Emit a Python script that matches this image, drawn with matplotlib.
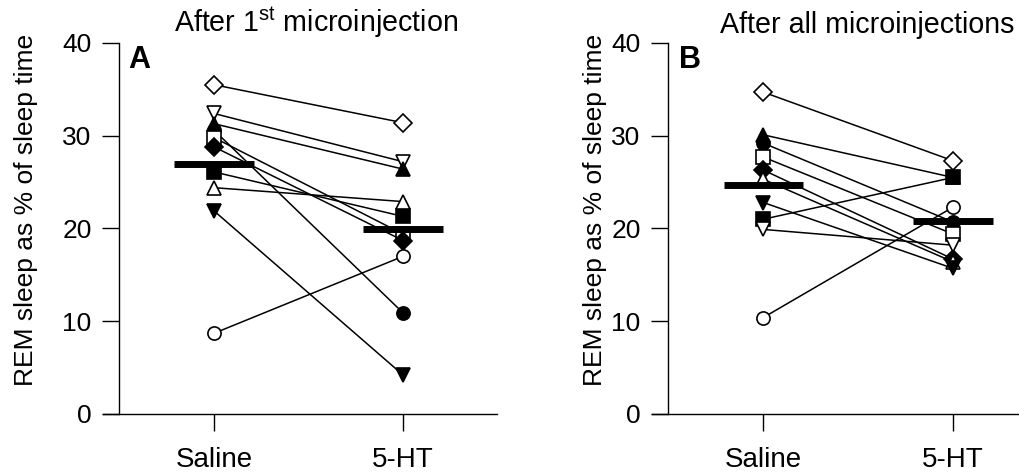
import matplotlib
matplotlib.use("Agg")
import matplotlib.pyplot as plt
import numpy as np

plt.rcParams['font.family'] = ['Liberation Sans', 'DejaVu Sans']
plt.rcParams['mathtext.fontset'] = 'custom'
plt.rcParams['mathtext.rm'] = 'Liberation Sans'
plt.rcParams['mathtext.it'] = 'Liberation Sans:italic'
plt.rcParams['mathtext.bf'] = 'Liberation Sans:bold'

groups = ["Saline", "5-HT"]

# panel A: after 1st microinjection (one entry per animal)
a_markers = ['D', 'v', '^', 'o', 's', 'D', 's', '^', 'v', 'o']
a_filled = [False, False, True, True, False, True, True, False, True, False]
a_saline = [35.5, 32.4, 31.3, 30.6, 29.8, 28.8, 26.1, 24.4, 21.9, 8.7]
a_5ht = [31.4, 27.2, 26.4, 10.9, 19.4, 18.7, 21.3, 22.9, 4.2, 17.0]

# panel B: after all microinjections
b_markers = ['D', '^', 'o', 's', 'D', '^', 'v', 's', 'v', 'o']
b_filled = [False, True, True, False, True, False, True, True, False, False]
b_saline = [34.7, 30.1, 29.2, 27.7, 26.3, 25.3, 22.8, 21.0, 19.9, 10.4]
b_5ht = [27.3, 25.5, 20.7, 19.4, 16.7, 16.4, 15.7, 25.5, 18.2, 22.3]

fig = plt.figure(figsize=(10.2, 4.74), dpi=100)
ax_a = fig.add_axes([0.101, 0.1266, 0.3863, 0.7827])
ax_b = fig.add_axes([0.6392, 0.1266, 0.3608, 0.7827])


def draw_panel(ax, markers, filled, saline, treated, xmax, ylab_x):
    for m, f, s, t in zip(markers, filled, saline, treated):
        ax.plot([0, 1], [s, t], color='k', lw=1.1, marker=m, ms=9.5,
                mfc='k' if f else 'w', mec='k', mew=1.2, clip_on=False, zorder=3)
    for i, vals in enumerate([saline, treated]):
        mean = np.mean(vals)
        ax.plot([i - 0.21, i + 0.21], [mean, mean], color='k', lw=5,
                solid_capstyle='butt', zorder=4, clip_on=False)
    ax.set_xlim(-0.587, xmax)
    ax.set_ylim(0, 40)
    ax.spines['top'].set_visible(False)
    ax.spines['right'].set_visible(False)
    ax.spines['left'].set_position(('data', -0.5))
    ax.spines['left'].set_bounds(0, 40)
    ax.spines['left'].set_linewidth(1.0)
    ax.spines['bottom'].set_linewidth(1.0)
    ax.set_xticks([0, 1])
    ax.set_xticklabels(groups, fontsize=20)
    ax.set_yticks([0, 10, 20, 30, 40])
    ax.tick_params(axis='y', direction='out', length=12, width=1.0, labelsize=19, pad=8)
    ax.tick_params(axis='x', direction='out', length=12, width=1.0, pad=12)
    ax.set_ylabel("REM sleep as % of sleep time", fontsize=19)
    ax.yaxis.set_label_coords(ylab_x, 0.55)
    ax.patch.set_alpha(0)


draw_panel(ax_a, a_markers, a_filled, a_saline, a_5ht, 1.497, -0.165)
draw_panel(ax_b, b_markers, b_filled, b_saline, b_5ht, 1.353, -0.122)

fig.text(128 / 1020, 1 - 68 / 474, "A", fontsize=22, fontweight='bold', va='baseline')
fig.text(679 / 1020, 1 - 68 / 474, "B", fontsize=22, fontweight='bold', va='baseline')
fig.text(174 / 1020, 1 - 32 / 474, r"After 1$^{\mathrm{st}}$ microinjection", fontsize=20.6, va='baseline')
fig.text(720 / 1020, 1 - 33 / 474, "After all microinjections", fontsize=20.6, va='baseline')

fig.savefig("out.png", dpi=100)
